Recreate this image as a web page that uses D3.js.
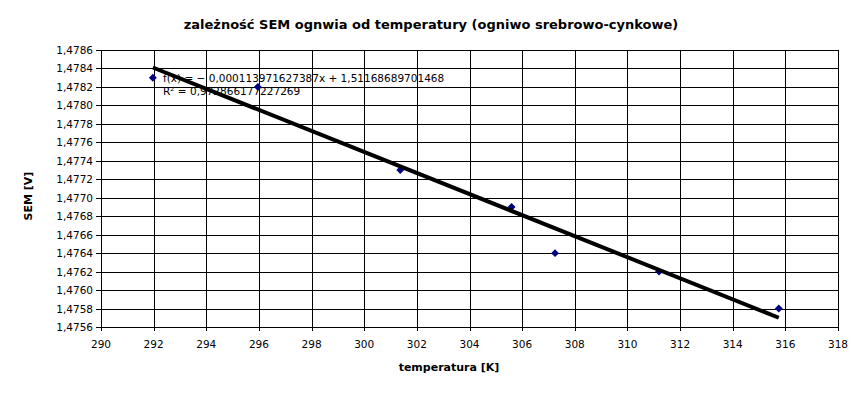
<!DOCTYPE html>
<html>
<head>
<meta charset="utf-8">
<script src="https://cdn.jsdelivr.net/npm/d3@7"></script>
<style>
 body{margin:0;background:#fff;}
 text{font-family:"DejaVu Sans",sans-serif;}
</style>
</head>
<body>
<script>
// pomiary
var temperatura=[291.97,295.96,301.37,305.6,307.25,311.2,315.75];
var sem=[1.4783,1.4782,1.4773,1.4769,1.4764,1.4762,1.4758];
var xTicks=[290,292,294,296,298,300,302,304,306,308,310,312,314,316,318];
var yTicks=[1.4756,1.4758,1.4760,1.4762,1.4764,1.4766,1.4768,1.4770,1.4772,1.4774,1.4776,1.4778,1.4780,1.4782,1.4784,1.4786];
// linia trendu
var slope=-0.000113971627387, intercept=1.51168689701468;
var eqText=["f(x) = − 0,000113971627387x + 1,51168689701468","R² = 0,972866177227269"];

var W=862,H=393;
var svg=d3.select("body").append("svg").attr("width",W).attr("height",H);

var x=d3.scaleLinear().domain([290,318]).range([101,838]);
var y=d3.scaleLinear().domain([1.4756,1.4786]).range([327,50]);
var fmt=function(v){return v.toFixed(4).replace(".",",");};

// siatka
svg.append("g").selectAll("line").data(yTicks).enter().append("line")
  .attr("x1",x(290)-5).attr("x2",x(318))
  .attr("y1",function(d){return Math.round(y(d))+0.5;})
  .attr("y2",function(d){return Math.round(y(d))+0.5;})
  .attr("stroke","#000").attr("stroke-width",1);
svg.append("g").selectAll("line").data(xTicks).enter().append("line")
  .attr("y1",y(1.4786)).attr("y2",y(1.4756)+4)
  .attr("x1",function(d){return Math.round(x(d))+0.5;})
  .attr("x2",function(d){return Math.round(x(d))+0.5;})
  .attr("stroke","#000").attr("stroke-width",1);

svg.append("g").selectAll("text").data(yTicks).enter().append("text")
  .attr("x",x(290)-8).attr("y",function(d){return y(d)+4;})
  .attr("text-anchor","end").attr("font-size",10.5).text(fmt);
svg.append("g").selectAll("text").data(xTicks).enter().append("text")
  .attr("x",function(d){return x(d);}).attr("y",348)
  .attr("text-anchor","middle").attr("font-size",10.5).text(function(d){return d;});

// opis rownania
svg.append("g").selectAll("text").data(eqText).enter().append("text")
  .attr("x",163).attr("y",function(d,i){return 82+i*13;})
  .attr("font-size",10.5).text(function(d){return d;});

// punkty
var pts=temperatura.map(function(t,i){return [t,sem[i]];});
svg.append("g").selectAll("path").data(pts).enter().append("path")
  .attr("d",d3.symbol().type(d3.symbolDiamond2).size(40))
  .attr("transform",function(d){return "translate("+x(d[0])+","+y(d[1])+")";})
  .attr("fill","#000080");

// linia trendu
var x0=d3.min(temperatura),x1=d3.max(temperatura);
var line=d3.line().x(function(d){return x(d);}).y(function(d){return y(slope*d+intercept);});
svg.append("path").attr("d",line([x0,x1]))
  .attr("stroke","#000").attr("stroke-width",4).attr("fill","none");

// tytuly
svg.append("text").attr("x",431).attr("y",29).attr("text-anchor","middle")
  .attr("font-size",13).attr("font-weight","bold")
  .text("zależność SEM ognwia od temperatury (ogniwo srebrowo-cynkowe)");
svg.append("text").attr("x",449).attr("y",371).attr("text-anchor","middle")
  .attr("font-size",11).attr("font-weight","bold").text("temperatura [K]");
svg.append("text").attr("transform","translate(32,196) rotate(-90)")
  .attr("text-anchor","middle").attr("font-size",11).attr("font-weight","bold").text("SEM [V]");
</script>
</body>
</html>
